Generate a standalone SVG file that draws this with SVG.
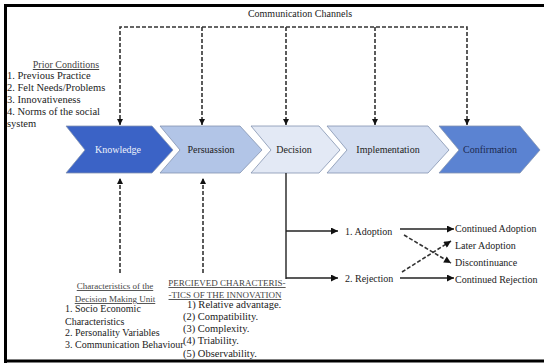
<svg xmlns="http://www.w3.org/2000/svg" width="544" height="363" viewBox="0 0 544 363">
<style>
text{font-family:"Liberation Serif","Times New Roman",serif;font-size:10px;fill:#222}
.dash{fill:none;stroke:#333;stroke-width:1.6;stroke-dasharray:4 2}
.solid{fill:none;stroke:#222;stroke-width:1.4}
.chev{stroke:#8393b0;stroke-width:0.8}
.lbl{text-anchor:middle}
.ul{text-decoration:underline}
.small{font-size:9px;fill:#444}
.mid{font-size:10.5px}
</style>
<defs>
<marker id="ah" viewBox="0 0 10 10" refX="10" refY="5" markerWidth="6" markerHeight="6" orient="auto" markerUnits="userSpaceOnUse">
<path d="M0,0 L10,5 L0,10 Z" fill="#111"/>
</marker>
<marker id="ahs" viewBox="0 0 10 10" refX="10" refY="5" markerWidth="8" markerHeight="7" orient="auto" markerUnits="userSpaceOnUse">
<path d="M0,0 L10,5 L0,10 Z" fill="#111"/>
</marker>
</defs>
<rect width="544" height="363" fill="#fff"/>
<path d="M5.5,363 L5.5,5.5 L544,5.5 M5.5,361 L544,361" fill="none" stroke="#000" stroke-width="3"/>

<g id="title"><text x="300" y="17" class="lbl">Communication Channels</text></g>

<g id="prior-conditions">
<text x="66" y="68" class="lbl ul" style="fill:#444">Prior Conditions</text>
<text x="7" y="79" class="mid">1. Previous Practice</text>
<text x="7" y="91" class="mid">2. Felt Needs/Problems</text>
<text x="7" y="103" class="mid">3. Innovativeness</text>
<text x="7" y="115" class="mid">4. Norms of the social</text>
<text x="7" y="127" class="mid">system</text>
</g>

<g id="knowledge">
<path class="chev" d="M66,126 L152,126 L173,150 L152,173 L66,173 L85,150 Z" fill="#3b63c6"/>
<text x="118" y="153" class="lbl" style="fill:#eef2fb">Knowledge</text>
</g>
<g id="persuassion">
<path class="chev" d="M160,126 L240,126 L262,150 L240,173 L160,173 L180,150 Z" fill="#b2c5e7"/>
<text x="211" y="153" class="lbl">Persuassion</text>
</g>
<g id="decision">
<path class="chev" d="M251,126 L319,126 L340,150 L319,173 L251,173 L271,150 Z" fill="#e3e9f5"/>
<text x="294" y="153" class="lbl">Decision</text>
</g>
<g id="implementation">
<path class="chev" d="M327,126 L428,126 L449,150 L428,173 L327,173 L347,150 Z" fill="#d3ddf0"/>
<text x="388" y="153" class="lbl">Implementation</text>
</g>
<g id="confirmation">
<path class="chev" d="M439,126 L520,126 L540,150 L520,173 L439,173 L459,150 Z" fill="#5b83d2"/>
<text x="490" y="153" class="lbl" style="fill:#1c2a50">Confirmation</text>
</g>

<g id="dmu">
<text x="115" y="289" class="lbl ul small">Characteristics of the</text>
<text x="115" y="302" class="lbl ul small">Decision Making Unit</text>
<text x="65" y="312">1. Socio Economic</text>
<text x="65" y="325">Characteristics</text>
<text x="65" y="336">2. Personality Variables</text>
<text x="65" y="348">3. Communication Behaviour</text>
</g>

<g id="perceived">
<text x="227" y="286" class="lbl ul small">PERCIEVED CHARACTERIS-</text>
<text x="225" y="298" class="lbl ul small">-TICS OF THE INNOVATION</text>
<text x="187" y="308" class="mid">1)  Relative advantage.</text>
<text x="183" y="320" class="mid">(2) Compatibility.</text>
<text x="183" y="332" class="mid">(3) Complexity.</text>
<text x="183" y="344" class="mid">(4) Triability.</text>
<text x="183" y="357" class="mid">(5) Observability.</text>
</g>

<g id="adoption"><text x="345" y="235">1. Adoption</text></g>
<g id="rejection"><text x="345" y="282">2. Rejection</text></g>
<g id="continued-adoption"><text x="455" y="232">Continued Adoption</text></g>
<g id="later-adoption"><text x="455" y="249">Later Adoption</text></g>
<g id="discontinuance"><text x="455" y="266">Discontinuance</text></g>
<g id="continued-rejection"><text x="455" y="283">Continued Rejection</text></g>

<g id="connectors">
<path class="dash" d="M120,125 L120,27 L467,27 L467,125"/>
<path class="dash" d="M120,120 L120,125" marker-end="url(#ah)"/>
<path class="dash" d="M467,120 L467,125" marker-end="url(#ah)"/>
<path class="dash" d="M202,27 L202,125" marker-end="url(#ah)"/>
<path class="dash" d="M286,27 L286,125" marker-end="url(#ah)"/>
<path class="dash" d="M375,27 L375,125" marker-end="url(#ah)"/>
<path class="dash" d="M120,273 L120,178" marker-end="url(#ah)"/>
<path class="dash" d="M203,273 L203,178" marker-end="url(#ah)"/>
<path class="solid" d="M286,173 L286,279"/>
<path class="solid" d="M286,231 L338,231" marker-end="url(#ahs)"/>
<path class="solid" d="M286,278 L338,278" marker-end="url(#ahs)"/>
<path class="solid" d="M400,229 L454,229" marker-end="url(#ahs)"/>
<path class="solid" d="M400,278 L454,278" marker-end="url(#ahs)"/>
<path class="dash" d="M404,235 L451,263" marker-end="url(#ahs)"/>
<path class="dash" d="M402,272 L451,241" marker-end="url(#ahs)"/>
</g>
</svg>
